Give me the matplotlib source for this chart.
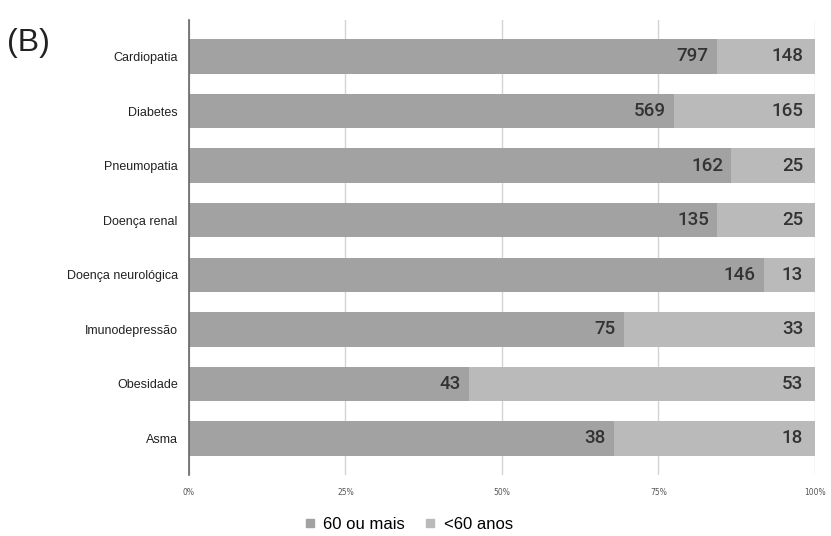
import matplotlib
matplotlib.use("Agg")
import matplotlib.pyplot as plt
from matplotlib.lines import Line2D
import numpy as np

categories = ["Cardiopatia", "Diabetes", "Pneumopatia", "Doença renal",
              "Doença neurológica", "Imunodepressão", "Obesidade", "Asma"]
older = [797, 569, 162, 135, 146, 75, 43, 38]      # 60 ou mais
younger = [148, 165, 25, 25, 13, 33, 53, 18]       # <60 anos
tick_labels = ["0%", "25%", "50%", "75%", "100%"]

DARK = "#a2a2a2"
LIGHT = "#bababa"

older_a = np.array(older, dtype=float)
younger_a = np.array(younger, dtype=float)
total = older_a + younger_a
p_old = older_a / total * 100
p_young = younger_a / total * 100
y = np.arange(len(categories))

fig = plt.figure(figsize=(8.31, 5.36), dpi=100)
ax = fig.add_axes([0.2274, 0.1138, 0.7533, 0.849])

ax.barh(y, p_old, height=0.63, color=DARK, zorder=2)
ax.barh(y, p_young, left=p_old, height=0.63, color=LIGHT, zorder=2)

for i in range(len(categories)):
    ax.text(p_old[i] - 1.3, y[i], str(older[i]), ha="right", va="center",
            fontsize=13.5, color="#333333", family="Roboto", weight="medium", zorder=3)
    ax.text(98.1, y[i], str(younger[i]), ha="right", va="center",
            fontsize=13.5, color="#333333", family="Roboto", weight="medium", zorder=3)

ax.set_xlim(0, 100)
ax.set_ylim(len(categories) - 1 + 0.67, -0.67)
ax.set_yticks(y)
ax.set_yticklabels(categories, fontsize=9, color="#222222", family="Liberation Sans")
ax.set_xticks([0, 25, 50, 75, 100])
ax.set_xticklabels(tick_labels, fontsize=5.5, color="#555555")
ax.tick_params(axis="y", length=0, pad=8)
ax.tick_params(axis="x", length=0, pad=9)
ax.grid(axis="x", color="#d4d4d4", lw=1, zorder=0)
for s in ["top", "right", "bottom"]:
    ax.spines[s].set_visible(False)
ax.spines["left"].set_color("#666666")
ax.spines["left"].set_linewidth(1.2)

handles = [Line2D([], [], marker="s", ls="", color=DARK, markersize=6),
           Line2D([], [], marker="s", ls="", color=LIGHT, markersize=6)]
fig.legend(handles, ["60 ou mais", "<60 anos"], loc="center",
           bbox_to_anchor=(0.49, 0.022), ncol=2, frameon=False,
           prop={"family": "Liberation Sans", "size": 12},
           handletextpad=0.3, columnspacing=1.0, handlelength=1.0)

fig.text(0.008, 0.905, "(B)", fontsize=23, color="#222222", family="Liberation Sans")

fig.savefig("out.png", dpi=100)
